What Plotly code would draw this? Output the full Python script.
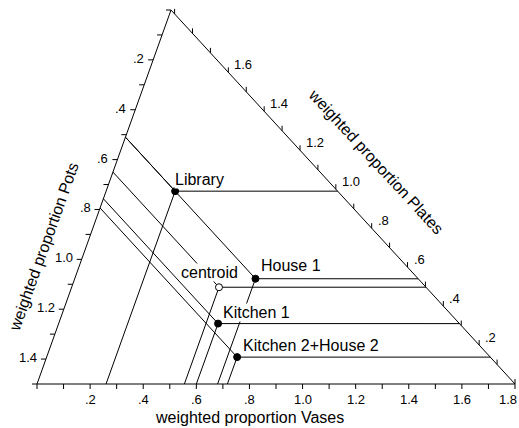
import numpy as np
import plotly.graph_objects as go

# Weighted proportions of vessel classes per context
sites = ["Library", "House 1", "centroid", "Kitchen 1", "Kitchen 2+House 2"]
vases = [0.26, 0.68, 0.555, 0.60, 0.717]
pots = [0.51, 0.51, 0.65, 0.757, 0.794]
plates = [0.99, 0.54, 0.497, 0.31, 0.138]
is_centroid = [False, False, True, False, False]

# Axis extents (each weighted proportion reaches its maximum at one corner)
VASES_MAX, POTS_MAX, PLATES_MAX = 1.8, 1.5, 1.92

vases_ticks = [round(0.1 * i, 1) for i in range(19)]
pots_ticks = [round(0.1 * i, 1) for i in range(16)]
plates_ticks = [round(0.1 * i, 1) for i in range(20)]
vases_labels = [0.2, 0.4, 0.6, 0.8, 1.0, 1.2, 1.4, 1.6, 1.8]
pots_labels = [0.2, 0.4, 0.6, 0.8, 1.0, 1.2, 1.4]
plates_labels = [0.2, 0.4, 0.6, 0.8, 1.0, 1.2, 1.4, 1.6]

# label offsets in screen pixels: (xshift, yshift, xanchor)
label_offsets = {
    "Library": (-1, 12, "left"),
    "House 1": (5, 13.5, "left"),
    "centroid": (-9.5, 14.5, "center"),
    "Kitchen 1": (4, 11, "left"),
    "Kitchen 2+House 2": (5, 11.5, "left"),
}

# ---- triangle frame (drawing units; 1 unit = SCALE pixels) ----
W, H = 519, 428
SCALE = 478.0
PX = 1.0 / SCALE
BL = np.array([0.0, 0.0])
BR = np.array([1.0, 0.0])
AP = np.array([134 * PX, 374 * PX])

FONT = "Liberation Sans, Arial, sans-serif"


def on_vases(v):
    return BL + (v / VASES_MAX) * (BR - BL)


def on_pots(p):
    return AP + (p / POTS_MAX) * (BL - AP)


def on_plates(q):
    return BR + (q / PLATES_MAX) * (AP - BR)


def position(v, p, q):
    f = np.array([v / VASES_MAX, p / POTS_MAX, q / PLATES_MAX])
    f = f / f.sum()
    return f[0] * BR + f[1] * BL + f[2] * AP


def fmt(x):
    s = f"{x:.1f}"
    return s[1:] if s.startswith("0") else s


def segs(pairs):
    xs, ys = [], []
    for a, b in pairs:
        xs += [a[0], b[0], None]
        ys += [a[1], b[1], None]
    return xs, ys


fig = go.Figure()
line_style = dict(color="black", width=1)

# frame
fx = [BL[0], BR[0], AP[0], BL[0]]
fy = [BL[1], BR[1], AP[1], BL[1]]
fig.add_trace(go.Scatter(x=fx, y=fy, mode="lines", line=line_style, hoverinfo="skip"))

# ticks
TL = 5 * PX
tick_pairs = []
for v in vases_ticks:
    a = on_vases(v)
    tick_pairs.append((a, a + np.array([0, -TL])))
for p in pots_ticks:
    a = on_pots(p)
    tick_pairs.append((a, a + np.array([-TL, 0])))
for q in plates_ticks:
    a = on_plates(q)
    tick_pairs.append((a, a + np.array([0, TL])))
tx, ty = segs(tick_pairs)
fig.add_trace(go.Scatter(x=tx, y=ty, mode="lines", line=line_style, hoverinfo="skip"))

# projection lines from each sample to the three axes
pts = [position(v, p, q) for v, p, q in zip(vases, pots, plates)]
proj = []
for pt, v, p, q in zip(pts, vases, pots, plates):
    proj.append((pt, on_vases(v)))
    proj.append((pt, on_pots(p)))
    proj.append((pt, on_plates(q)))
px_, py_ = segs(proj)
fig.add_trace(go.Scatter(x=px_, y=py_, mode="lines", line=line_style, hoverinfo="skip"))

annotations = []
tick_font = dict(family=FONT, size=13, color="black")
for v in vases_labels:
    a = on_vases(v)
    last = v == vases_labels[-1]
    annotations.append(dict(x=a[0], y=a[1], text=fmt(v), showarrow=False, font=tick_font,
                            xanchor="right" if last else "center", yanchor="middle",
                            xshift=3.5 if last else 0, yshift=-15.5))
for p in pots_labels:
    a = on_pots(p)
    annotations.append(dict(x=a[0], y=a[1], text=fmt(p), showarrow=False, font=tick_font,
                            xanchor="right", yanchor="middle", xshift=-7, yshift=1.5))
for q in plates_labels:
    a = on_plates(q)
    annotations.append(dict(x=a[0], y=a[1], text=fmt(q), showarrow=False, font=tick_font,
                            xanchor="left", yanchor="middle", xshift=4, yshift=7.5))

# axis titles
title_font = dict(family=FONT, size=16, color="black")
left_angle = -np.degrees(np.arctan2(AP[1] - BL[1], AP[0] - BL[0]))
right_angle = np.degrees(np.arctan2(AP[1] - BR[1], BR[0] - AP[0]))
a = on_vases(0.8)
annotations.append(dict(x=a[0], y=a[1], text="weighted proportion Vases", showarrow=False,
                        font=title_font, xanchor="center", yanchor="middle", yshift=-33))
a = on_pots(0.95)
annotations.append(dict(x=a[0], y=a[1], text="weighted proportion Pots", showarrow=False,
                        font=title_font, xanchor="center", yanchor="middle", xshift=-42,
                        textangle=left_angle))
a = on_plates(1.144)
annotations.append(dict(x=a[0], y=a[1], text="weighted proportion Plates", showarrow=False,
                        font=title_font, xanchor="center", yanchor="middle", xshift=66,
                        textangle=right_angle))

# sample labels
for name, pt in zip(sites, pts):
    dx, dy, anc = label_offsets[name]
    annotations.append(dict(x=pt[0], y=pt[1], text=name, showarrow=False, font=title_font,
                            xanchor=anc, yanchor="middle", xshift=dx, yshift=dy,
                            bgcolor="white", borderpad=0))

# sample points
fig.add_trace(go.Scatter(
    x=[pt[0] for pt in pts], y=[pt[1] for pt in pts], mode="markers",
    marker=dict(size=7, color=["white" if c else "black" for c in is_centroid],
                line=dict(color="black", width=1)),
    text=sites, hoverinfo="text", cliponaxis=False))

fig.update_layout(
    width=W, height=H, margin=dict(l=0, r=0, t=0, b=0),
    paper_bgcolor="white", plot_bgcolor="white", showlegend=False,
    xaxis=dict(range=[-37 * PX, (W - 37) * PX], visible=False, fixedrange=True),
    yaxis=dict(range=[-(H - 384) * PX, 384 * PX], visible=False, fixedrange=True),
    annotations=annotations,
)

fig.write_html("out.html")
